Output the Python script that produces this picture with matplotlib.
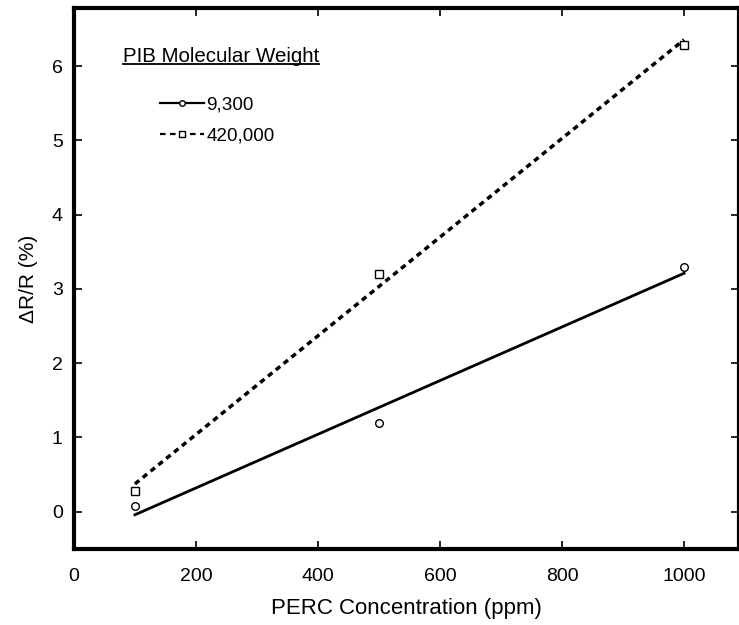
import matplotlib.pyplot as plt
import numpy as np

plt.rcParams['font.family'] = ['Liberation Sans', 'DejaVu Sans']

# PERC concentration (ppm)
conc = [100, 500, 1000]
# dR/R (%) for each PIB molecular weight
low_mw = [0.07, 1.2, 3.3]       # 9,300
high_mw = [0.28, 3.2, 6.28]     # 420,000
labels = ['9,300', '420,000']
xticks = [0, 200, 400, 600, 800, 1000]
yticks = [0, 1, 2, 3, 4, 5, 6]

fig = plt.figure(figsize=(7.39, 6.25), dpi=100)
ax = fig.add_axes([0.100, 0.122, 0.900, 0.865])

x = np.array(conc)
xs = np.array([conc[0], conc[-1]])

# linear fits through the points
p1 = np.polyfit(x, low_mw, 1)
p2 = np.polyfit(x, high_mw, 1)

ax.plot(xs, np.polyval(p1, xs), color='black', lw=2)
ax.plot(xs, np.polyval(p2, xs), color='black', lw=2.5, ls=(0, (1.6, 1.3)))
ax.plot(x, low_mw, 'o', ms=5.5, mfc='white', mec='black', mew=1)
ax.plot(x, high_mw, 's', ms=5.5, mfc='white', mec='black', mew=1)

# legend handles: line with marker in the middle
h1, = ax.plot([], [], color='black', lw=1.6, marker='o', ms=4, mfc='white', mec='black')
h2, = ax.plot([], [], color='black', lw=1.6, ls=(0, (2.5, 2)), marker='s', ms=4, mfc='white', mec='black')
ax.legend([h1, h2], labels, loc='upper left', bbox_to_anchor=(0.104, 0.869),
          frameon=False, fontsize=13.6, handlelength=2.3, handletextpad=0.15,
          labelspacing=0.75)

ax.text(0.0736, 0.911, 'PIB Molecular Weight', transform=ax.transAxes,
        fontsize=14.8, ha='left', va='center')
ax.plot([0.0736, 0.368], [0.896, 0.896], transform=ax.transAxes,
        color='black', lw=1.3, clip_on=False)

ax.set_xlim(0, 1090)
ax.set_ylim(-0.5, 6.78)
ax.set_xticks(xticks)
ax.set_yticks(yticks)
ax.tick_params(direction='in', length=6, width=1.2, labelsize=14,
               top=True, right=True, pad=8)
ax.tick_params(axis='x', pad=14)
for s in ax.spines.values():
    s.set_linewidth(3)

ax.set_xlabel('PERC Concentration (ppm)', fontsize=16, labelpad=9)
ax.set_ylabel('\u0394R/R (%)', fontsize=15, labelpad=10)

fig.savefig('out.png', dpi=100)
